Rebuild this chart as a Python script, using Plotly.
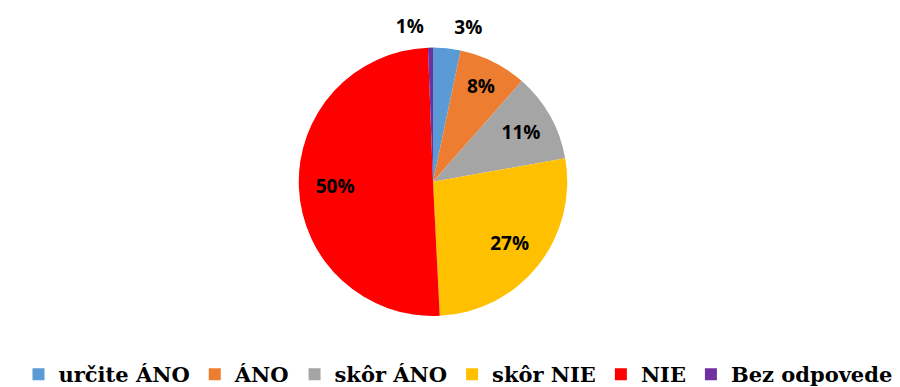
import plotly.graph_objects as go

labels = ["určite ÁNO", "ÁNO", "skôr ÁNO", "skôr NIE", "NIE", "Bez odpovede"]
values = [3.3, 8.2, 10.7, 27.0, 50.2, 0.6]
colors = ["#5B9BD5", "#ED7D31", "#A5A5A5", "#FFC000", "#FF0000", "#7030A0"]
inside_label = [False, True, True, True, True, False]

W, H = 900, 387
cx, cy, r = 425, 171, 136
dx_out = 9

def dom(rad):
    return dict(x=[(cx - rad) / W, (cx + rad) / W],
                y=[(H - cy - rad) / H, (H - cy + rad) / H])

clear = ["rgba(0,0,0,0)"] * len(labels)
pct = "%{percent:.0%}"
lab_font = dict(family="Open Sans", size=19, color="black", weight="bold")
SERIF = "DejaVu Serif"

fig = go.Figure()
fig.add_trace(go.Pie(
    labels=labels, values=values, sort=False, direction="clockwise", rotation=0,
    marker=dict(colors=colors, line=dict(width=0)),
    textinfo="none", domain=dom(r), hoverinfo="label+percent",
))
fig.add_trace(go.Pie(
    labels=labels, values=values, sort=False, direction="clockwise", rotation=0,
    hole=0.46, marker=dict(colors=clear, line=dict(width=0)),
    texttemplate=[pct if b else "" for b in inside_label],
    textposition="inside", insidetextorientation="horizontal",
    textfont=lab_font, insidetextfont=lab_font,
    domain=dom(r), showlegend=False, hoverinfo="skip",
))
fig.add_trace(go.Pie(
    labels=labels, values=values, sort=False, direction="clockwise", rotation=0,
    marker=dict(colors=clear, line=dict(width=0)),
    texttemplate=["" if b else pct for b in inside_label],
    textposition="outside", textfont=lab_font, outsidetextfont=lab_font,
    domain=dom(r + dx_out), showlegend=False, hoverinfo="skip",
))

fig.update_layout(
    width=W, height=H,
    margin=dict(l=0, r=0, t=0, b=0),
    paper_bgcolor="white",
    showlegend=True,
    legend=dict(
        orientation="h",
        x=0.5, xanchor="center",
        y=0.0, yanchor="bottom",
        font=dict(family=SERIF, size=21, color="black", weight="bold"),
        itemclick=False,
    ),
)

fig.write_html("out.html")
